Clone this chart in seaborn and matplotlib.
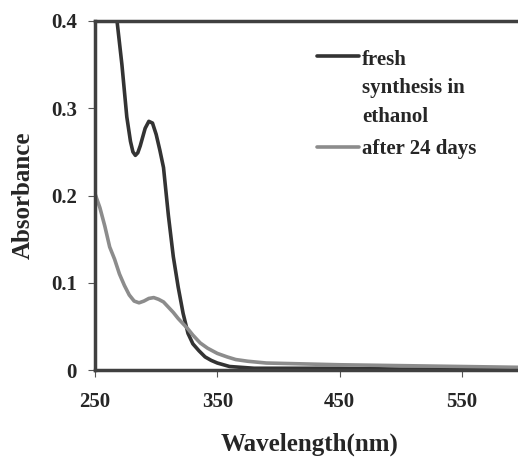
import matplotlib
matplotlib.use("Agg")
import matplotlib.pyplot as plt
from matplotlib.legend_handler import HandlerLine2D
import seaborn as sns
import pandas as pd

fresh_wl = [266, 268, 272, 276, 279, 281, 283, 285, 287, 291, 294, 297, 300, 303,
            306, 310, 314, 318, 322, 326, 330, 335, 340, 345, 350, 355, 360, 370,
            380, 400, 450, 500, 550, 600]
fresh_abs = [0.42, 0.40, 0.35, 0.29, 0.262, 0.25, 0.246, 0.249, 0.257, 0.277, 0.285,
             0.283, 0.27, 0.252, 0.232, 0.177, 0.13, 0.095, 0.065, 0.042, 0.03,
             0.022, 0.015, 0.011, 0.008, 0.006, 0.004, 0.003, 0.002, 0.002, 0.002,
             0.001, 0.001, 0.001]

aged_wl = [250, 254, 258, 262, 266, 270, 274, 278, 282, 286, 290, 294, 298, 302,
           306, 310, 314, 318, 322, 326, 330, 336, 342, 350, 358, 365, 375, 390,
           420, 450, 500, 550, 600]
aged_abs = [0.202, 0.186, 0.165, 0.141, 0.127, 0.11, 0.097, 0.086, 0.079, 0.077,
            0.079, 0.082, 0.083, 0.081, 0.078, 0.072, 0.066, 0.059, 0.053, 0.047,
            0.040, 0.031, 0.025, 0.019, 0.015, 0.012, 0.010, 0.008, 0.007, 0.006,
            0.005, 0.004, 0.003]

series_names = ["fresh\nsynthesis in\nethanol", "after 24 days"]
x_ticks = [250, 350, 450, 550]
y_ticks = [0, 0.1, 0.2, 0.3, 0.4]
y_tick_labels = ["0", "0.1", "0.2", "0.3", "0.4"]

df = pd.concat([
    pd.DataFrame({"wl": fresh_wl, "abs": fresh_abs, "series": series_names[0]}),
    pd.DataFrame({"wl": aged_wl, "abs": aged_abs, "series": series_names[1]}),
])

sns.set_style("white")
plt.rcParams["font.family"] = ["Liberation Serif", "DejaVu Serif"]
plt.rcParams["font.weight"] = "bold"

LEG_FS = 15
LINESP = 1.55


class TopLineHandler(HandlerLine2D):
    """Place the legend line at the first text line of a multi-line label."""
    def __init__(self, nlines, **kw):
        super().__init__(**kw)
        self.nlines = nlines

    def create_artists(self, legend, orig_handle, xdescent, ydescent, width,
                       height, fontsize, trans):
        arts = super().create_artists(legend, orig_handle, xdescent, ydescent,
                                      width, height, fontsize, trans)
        shift = (self.nlines - 1) / 2 * fontsize * LINESP
        for a in arts:
            if hasattr(a, "get_ydata"):
                a.set_ydata([y + shift for y in a.get_ydata()])
        return arts


fig = plt.figure(figsize=(5.18, 4.57), dpi=100)
ax = fig.add_axes([95 / 518, 1 - 370 / 457, 1.01 - 95 / 518, (370 - 21) / 457])

sns.lineplot(data=df, x="wl", y="abs", hue="series", hue_order=series_names,
             palette=["#333333", "#8c8c8c"], linewidth=2.6, ax=ax,
             sort=False, estimator=None)

ax.set_xlim(250, 600)
ax.set_ylim(0, 0.4)
ax.set_xticks(x_ticks)
ax.set_xticklabels([str(v) for v in x_ticks], fontsize=15, fontweight="bold")
ax.set_yticks(y_ticks)
ax.set_yticklabels(y_tick_labels, fontsize=15, fontweight="bold")
ax.tick_params(axis="both", direction="out", length=5, width=0.8, color="#555555",
               left=True, bottom=True, pad=8)
ax.tick_params(axis="x", pad=11)

for side in ["left", "bottom", "top"]:
    ax.spines[side].set_visible(True)
    ax.spines[side].set_color("#404040")
    ax.spines[side].set_linewidth(2.5)
ax.spines["right"].set_visible(False)

ax.set_xlabel("Wavelength(nm)", fontsize=18, fontweight="bold", labelpad=15)
ax.set_ylabel("Absorbance", fontsize=18, fontweight="bold", labelpad=12)

handles, labels = ax.get_legend_handles_labels()
handler_map = {h: TopLineHandler(lab.count("\n") + 1) for h, lab in zip(handles, labels)}
leg = ax.legend(handles, labels, loc="upper left",
                bbox_to_anchor=(317 / 518, 1 - 50 / 457),
                bbox_transform=fig.transFigure, frameon=False, fontsize=LEG_FS,
                handlelength=2.0, handletextpad=0.15, labelspacing=0.6,
                borderpad=0, borderaxespad=0, handler_map=handler_map)
for t in leg.get_texts():
    t.set_fontweight("bold")
    t.set_linespacing(LINESP)
for h in leg.get_lines():
    h.set_linewidth(2.6)

fig.savefig("out.png", dpi=100)
